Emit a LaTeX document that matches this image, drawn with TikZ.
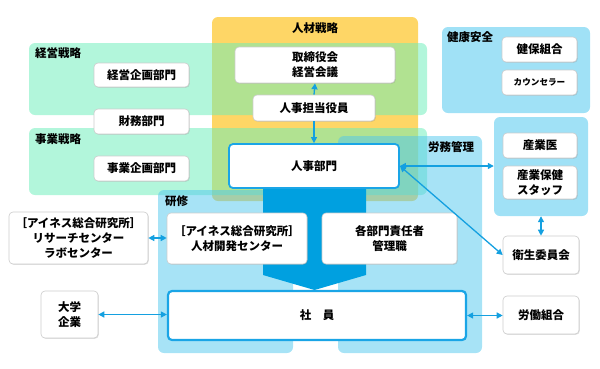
\documentclass[tikz,border=0pt]{standalone}
\usepackage{fontspec}
\setmainfont{Noto Sans CJK JP}
\usetikzlibrary{shadows,arrows.meta}
\definecolor{orng}{RGB}{254,214,102}
\definecolor{mintc}{RGB}{108,238,186}
\definecolor{regblue}{RGB}{80,200,237}
\definecolor{kenkoblue}{RGB}{160,225,246}
\definecolor{bigblue}{RGB}{0,160,224}
\definecolor{lnblue}{RGB}{20,160,224}
\definecolor{boxblue}{RGB}{26,165,230}
\begin{document}
\begin{tikzpicture}[x=1pt,y=-1pt,
  region/.style={rounded corners=6pt, inner sep=0pt},
  wbox/.style={draw=black!20, line width=0.6pt, fill=white, rounded corners=4pt, inner sep=0pt, align=center,
    font=\bfseries\fontsize{11.5}{15}\selectfont,
    drop shadow={opacity=0.25, shadow xshift=0.8pt, shadow yshift=-0.8pt}},
  bbox/.style={wbox, draw=boxblue, line width=1.8pt},
  rlabel/.style={font=\bfseries\fontsize{11.5}{14}\selectfont, inner sep=0pt},
  link/.style={draw=lnblue, line width=1.3pt, {Triangle[length=6pt,width=6pt]}-{Triangle[length=6pt,width=6pt]}},
  linkone/.style={draw=lnblue, line width=1.3pt, -{Triangle[length=6pt,width=6pt]}},
]
\useasboundingbox (0,0) rectangle (600,368);
% regions
\fill[region, orng] (212,17) rectangle (418,201);
\fill[region, mintc, fill opacity=0.52] (29,43) rectangle (427,115);
\fill[region, mintc, fill opacity=0.52] (29,128) rectangle (427,195);
\fill[region, regblue, fill opacity=0.5] (158,190) rectangle (293,353);
\fill[region, regblue, fill opacity=0.5] (338,136) rectangle (482,353);
\node[region, fill=kenkoblue, minimum width=148pt, minimum height=86pt] (kenko) at (516,70) {};
\node[region, fill=kenkoblue, minimum width=94pt, minimum height=99pt] (hoken) at (541,166.5) {};
% big arrow
\fill[bigblue] (263,187) -- (366,187) -- (366,275) -- (314.5,290) -- (263,275) -- cycle;
% region labels
\node[rlabel] (lbljinzai) at (315,28) {人材戦略};
\node[rlabel, anchor=west] (lblkeiei) at (35,53) {経営戦略};
\node[rlabel, anchor=west] (lbljigyo) at (35,139) {事業戦略};
\node[rlabel, anchor=west] (lblkenko) at (447,37) {健康安全};
\node[rlabel, anchor=west] (lblroumu) at (428,147) {労務管理};
\node[rlabel, anchor=west] (lblkenshu) at (165,201) {研修};
% boxes
\node[wbox, minimum width=95pt, minimum height=24pt] (keieikikaku) at (141.5,75) {経営企画部門};
\node[wbox, minimum width=95pt, minimum height=25pt] (zaimu) at (141.5,121.5) {財務部門};
\node[wbox, minimum width=95pt, minimum height=25pt] (jigyokikaku) at (141.5,168.5) {事業企画部門};
\node[wbox, minimum width=160pt, minimum height=36pt] (torishimari) at (315,65) {取締役会\\経営会議};
\node[wbox, minimum width=122pt, minimum height=26pt] (tanto) at (314,108) {人事担当役員};
\node[bbox, minimum width=170pt, minimum height=44pt] (jinji) at (314,166) {人事部門};
\node[wbox, minimum width=140pt, minimum height=51pt] (kaihatsu) at (237,238.5) {［アイネス総合研究所］\\人材開発センター};
\node[wbox, minimum width=135pt, minimum height=51pt] (sekinin) at (389.5,238.5) {各部門責任者\\管理職};
\node[bbox, line width=2.2pt, minimum width=298pt, minimum height=49pt] (shain) at (317,315.5) {社　員};
\node[wbox, minimum width=139pt, minimum height=52pt] (research) at (78.5,238) {［アイネス総合研究所］\\リサーチセンター\\ラボセンター};
\node[wbox, minimum width=57pt, minimum height=47pt] (daigaku) at (69.5,314.5) {大学\\企業};
\node[wbox, minimum width=75pt, minimum height=25pt] (kenpo) at (539.5,49.5) {健保組合};
\node[wbox, minimum width=75pt, minimum height=25pt, font=\bfseries\fontsize{8.6}{10}\selectfont] (counselor) at (539.5,82.5) {カウンセラー};
\node[wbox, minimum width=74pt, minimum height=25pt] (sangyoi) at (540,145.5) {産業医};
\node[wbox, minimum width=74pt, minimum height=33pt] (staff) at (540,182.5) {産業保健\\スタッフ};
\node[wbox, minimum width=76pt, minimum height=38pt] (eisei) at (541,255) {衛生委員会};
\node[wbox, minimum width=76pt, minimum height=38pt] (roudou) at (541,315) {労働組合};
% connectors
\draw[linkone] (tanto.north) -- (torishimari.south);
\draw[linkone] (tanto.south) -- (jinji.north);
\draw[link] (jinji.east) -- (jinji.east -| hoken.west);
\draw[link] (jinji.east) -- (eisei.west);
\draw[link] (hoken.south) -- (eisei.north);
\draw[link] (research.east) -- (research.east -| kaihatsu.west);
\draw[link] (daigaku.east) -- (daigaku.east -| shain.west);
\draw[link] (shain.east) -- (shain.east -| roudou.west);
\end{tikzpicture}
\end{document}
